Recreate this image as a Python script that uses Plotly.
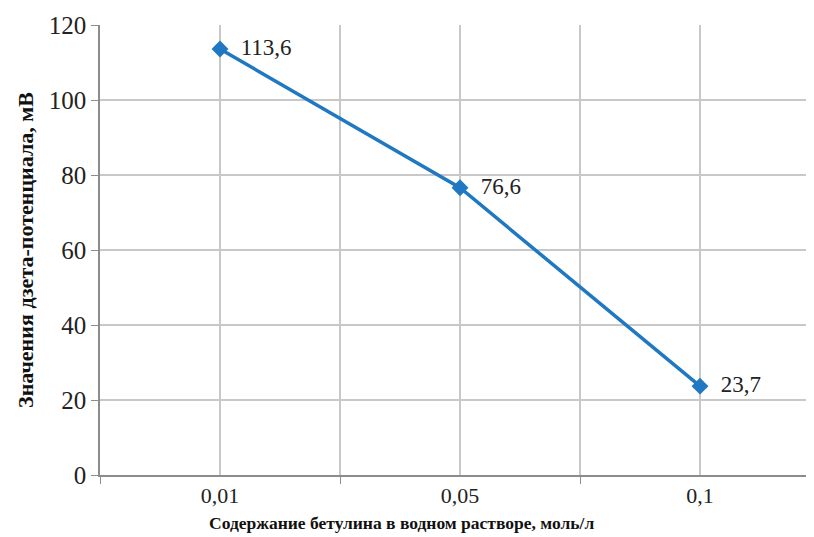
import plotly.graph_objects as go

categories = ["0,01", "0,05", "0,1"]
zeta_mv = [113.6, 76.6, 23.7]
y_ticks = [0, 20, 40, 60, 80, 100, 120]

x_pos = list(range(1, len(categories) + 1))
labels = ["  " + f"{v:.1f}".replace(".", ",") for v in zeta_mv]

SERIF = "'Liberation Serif', 'Times New Roman', Times, serif"

fig = go.Figure()
fig.add_trace(go.Scatter(
    x=x_pos, y=zeta_mv, mode="lines+markers+text",
    line=dict(color="#1F78C1", width=3.5),
    marker=dict(symbol="diamond", size=13, color="#1F78C1"),
    text=labels, textposition="middle right",
    textfont=dict(family=SERIF, size=23, color="#222222"),
    cliponaxis=False, showlegend=False,
))

grid = "#C8C8C8"
# page body has an 8px margin: compensate so the plot area sits at x=100..814, y=25..475
fig.update_layout(
    width=806, height=529, autosize=False,
    margin=dict(l=92, r=0, t=17, b=62, pad=0),
    paper_bgcolor="white", plot_bgcolor="white",
    font=dict(family=SERIF, color="#222222"),
    xaxis=dict(
        automargin=False,
        range=[0.5, 3.475],
        tickmode="array", tickvals=x_pos, ticktext=categories,
        ticks="", showgrid=True, gridcolor=grid, gridwidth=1.5,
        tickfont=dict(family=SERIF, size=22),
        showline=True, linecolor="#8C8C8C", linewidth=1.5,
        zeroline=False,
        minor=dict(tickmode="array", tickvals=[0.5, 1.5, 2.5],
                   ticks="outside", ticklen=7, tickcolor="#8C8C8C",
                   showgrid=True, gridcolor=grid, gridwidth=1.5),
    ),
    yaxis=dict(
        automargin=False,
        range=[0, 120], tickmode="array", tickvals=y_ticks,
        ticks="outside", ticklen=7, tickcolor="#8C8C8C",
        showgrid=True, gridcolor=grid, gridwidth=1.5,
        tickfont=dict(family=SERIF, size=25),
        showline=True, linecolor="#8C8C8C", linewidth=1.5,
        zeroline=False,
        title=dict(text="<b>Значения дзета-потенциала, мВ</b>",
                   font=dict(family=SERIF, size=22, color="#111111"), standoff=9),
    ),
    annotations=[dict(
        text="<b>Содержание бетулина в водном растворе, моль/л</b>",
        xref="paper", yref="paper", x=0.4216, y=-0.1067,
        xanchor="center", yanchor="middle", showarrow=False,
        font=dict(family=SERIF, size=17.5, color="#111111"),
    )],
)

fig.write_html("out.html")
